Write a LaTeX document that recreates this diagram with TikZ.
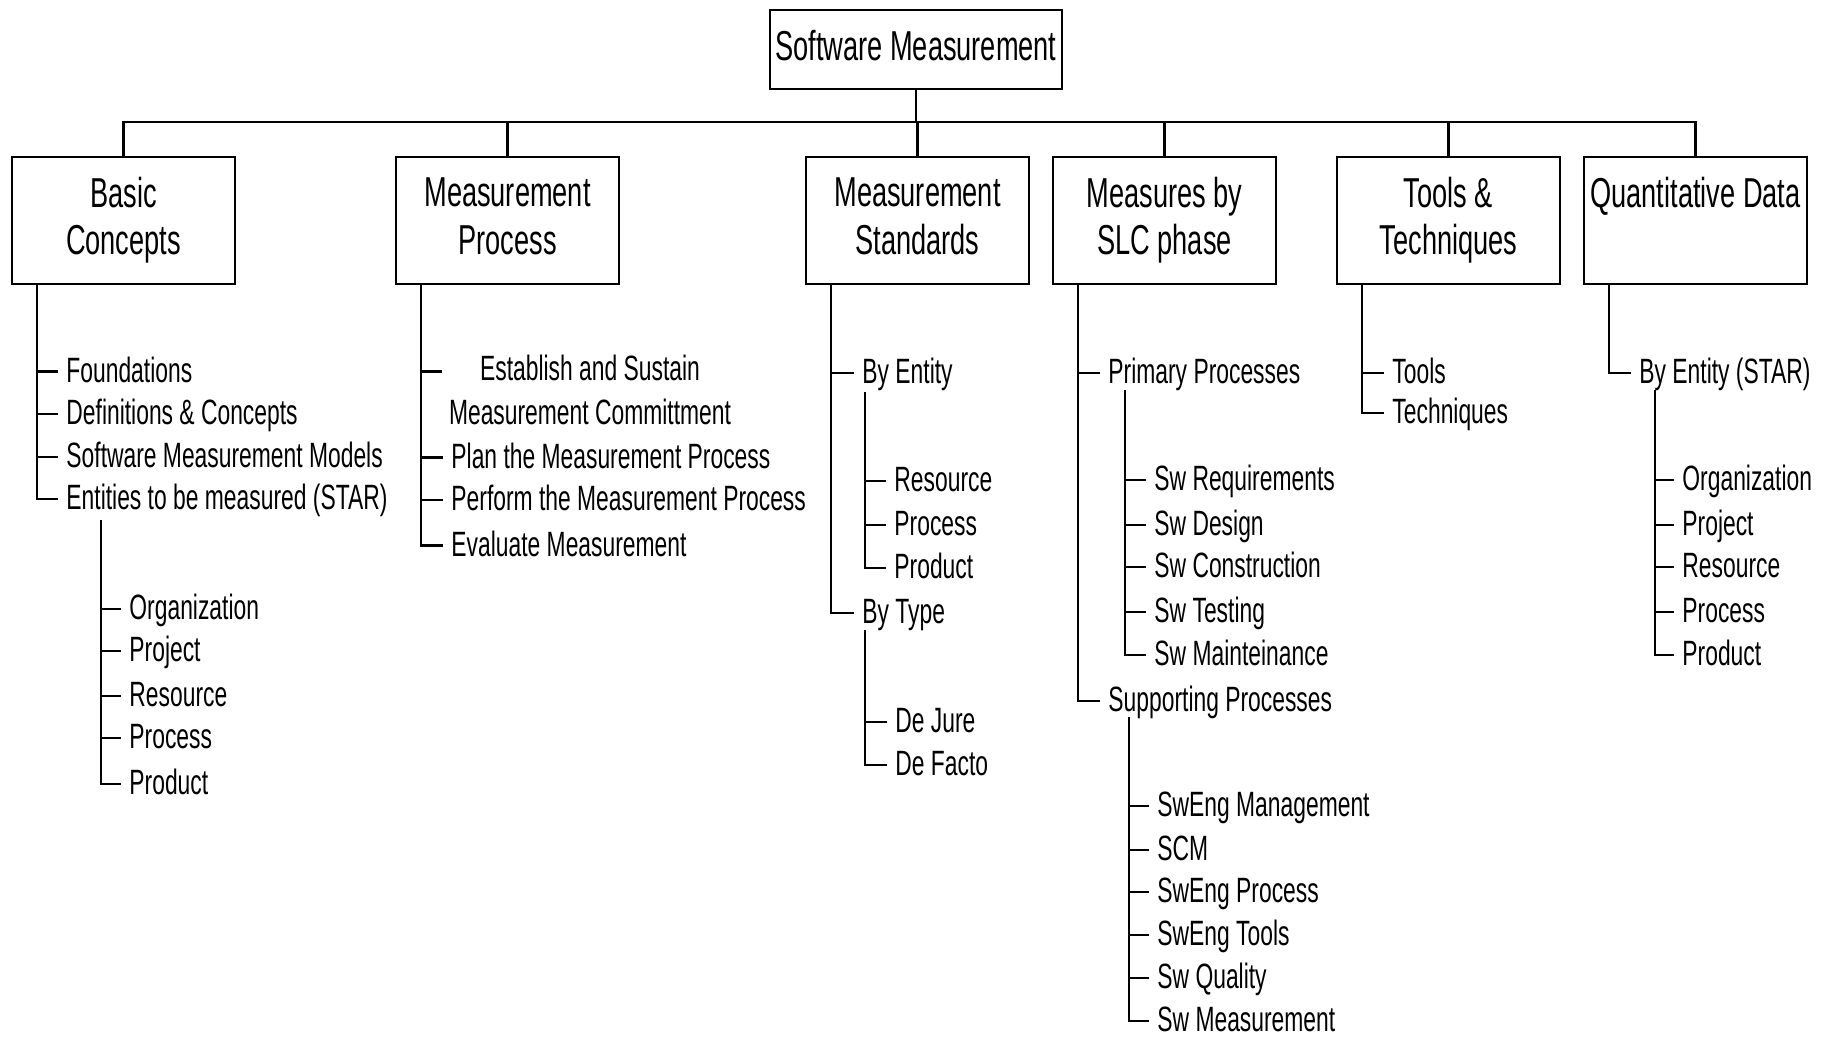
\documentclass[tikz,border=0pt]{standalone}
\usepackage{fontspec}
\setmainfont{Liberation Sans}[FakeStretch=0.65]
\usepackage{tikz}
\usetikzlibrary{positioning,calc}

\begin{document}
\begin{tikzpicture}[
  x=0.01cm, y=-0.01cm,
  % Styles
  cat/.style={draw, line width=0.7pt, minimum width=2.23cm, minimum height=1.27cm,
              inner sep=0pt, align=center, font=\fontsize{11.9}{13.4}\selectfont,
              execute at end node={\vphantom{p}}},
  leaf/.style={anchor=west, inner xsep=2.2pt, inner ysep=0pt, text height=6pt,
               text depth=0pt, font=\fontsize{10}{11.95}\selectfont},
  link/.style={line width=0.6pt}
]
\useasboundingbox (0,0) rectangle (1830,1036);

% --- 1. Root and categories ---
\node[cat, minimum width=2.92cm, minimum height=0.79cm] (root) at (916,49.5) {Software Measurement};

\node[cat] (bc) at (123.5,220.5) {Basic\\Concepts};
\node[cat] (mp) at (507.5,220.5) {Measurement\\Process};
\node[cat] (ms) at (917.5,220.5) {Measurement\\Standards};
\node[cat] (mb) at (1164.5,220.5) {Measures by\\SLC phase};
\node[cat] (tt) at (1448.5,220.5) {Tools \&\\Techniques};
\node[cat] (qd) at (1695.5,220.5) {Quantitative Data\\\mbox{}};

% Bus
\coordinate (bus) at ([yshift=-0.32cm]root.south);
\draw[link] (root.south) -- (bus);
\draw[link] (bc.north) |- (bus) -| (qd.north);
\foreach \c in {mp,ms,mb,tt}
  \draw[link] (\c.north) -- (\c.north |- bus);

% Stem tops under each category
\foreach \c in {bc,mp,ms,mb,tt,qd}
  \coordinate (\c s) at ([xshift=0.265cm]\c.south west);

% --- 2. Basic Concepts ---
\node[leaf] (f1) at (58,371.5) {Foundations};
\node[leaf] (f2) at (58,414) {Definitions \& Concepts};
\node[leaf] (f3) at (58,457) {Software Measurement Models};
\node[leaf] (f4) at (58,499) {Entities to be measured (STAR)};
\foreach \n in {f1,f2,f3,f4}
  \draw[link] (bcs) |- (\n.west);

\coordinate (f4s) at ([shift={(43,21)}]f4.west);
\node[leaf] (fo1) at (121,609) {Organization};
\node[leaf] (fo2) at (121,651) {Project};
\node[leaf] (fo3) at (121,696) {Resource};
\node[leaf] (fo4) at (121,738) {Process};
\node[leaf] (fo5) at (121,784) {Product};
\foreach \n in {fo1,fo2,fo3,fo4,fo5}
  \draw[link] (f4s) |- (\n.west);

% --- 3. Measurement Process ---
\node[font=\fontsize{10}{12.5}\selectfont, align=center, inner sep=0pt, anchor=north]
  (p1) at (590,354) {Establish and Sustain\\Measurement Committment};
\coordinate (p1t) at (442,371.5);
\node[leaf] (p2) at (443,457.5) {Plan the Measurement Process};
\node[leaf] (p3) at (443,500) {Perform the Measurement Process};
\node[leaf] (p4) at (443,545.5) {Evaluate Measurement};
\draw[link] (mps) |- (p1t);
\foreach \n in {p2,p3,p4}
  \draw[link] (mps) |- (\n.west);

% --- 4. Measurement Standards ---
\node[leaf] (s1) at (854,373) {By Entity};
\node[leaf] (s2) at (854,613) {By Type};
\foreach \n in {s1,s2}
  \draw[link] (mss) |- (\n.west);

\coordinate (s1s) at ([shift={(11,19)}]s1.west);
\node[leaf] (se1) at (886,481) {Resource};
\node[leaf] (se2) at (886,525) {Process};
\node[leaf] (se3) at (886,568) {Product};
\foreach \n in {se1,se2,se3}
  \draw[link] (s1s) |- (\n.west);

\coordinate (s2s) at ([shift={(11,17)}]s2.west);
\node[leaf] (st1) at (887,722) {De Jure};
\node[leaf] (st2) at (887,765) {De Facto};
\foreach \n in {st1,st2}
  \draw[link] (s2s) |- (\n.west);

% --- 5. Measures by SLC phase ---
\node[leaf] (m1) at (1100,373) {Primary Processes};
\node[leaf] (m2) at (1100,701) {Supporting Processes};
\foreach \n in {m1,m2}
  \draw[link] (mbs) |- (\n.west);

\coordinate (m1s) at ([shift={(25,17)}]m1.west);
\node[leaf] (pp1) at (1146,480) {Sw Requirements};
\node[leaf] (pp2) at (1146,525) {Sw Design};
\node[leaf] (pp3) at (1146,567) {Sw Construction};
\node[leaf] (pp4) at (1146,612) {Sw Testing};
\node[leaf] (pp5) at (1146,655) {Sw Mainteinance};
\foreach \n in {pp1,pp2,pp3,pp4,pp5}
  \draw[link] (m1s) |- (\n.west);

\coordinate (m2s) at ([shift={(29,16)}]m2.west);
\node[leaf] (sp1) at (1149,806) {SwEng Management};
\node[leaf] (sp2) at (1149,850) {SCM};
\node[leaf] (sp3) at (1149,892) {SwEng Process};
\node[leaf] (sp4) at (1149,935) {SwEng Tools};
\node[leaf] (sp5) at (1149,978) {Sw Quality};
\node[leaf] (sp6) at (1149,1021) {Sw Measurement};
\foreach \n in {sp1,sp2,sp3,sp4,sp5,sp6}
  \draw[link] (m2s) |- (\n.west);

% --- 6. Tools & Techniques ---
\node[leaf] (t1) at (1384,373) {Tools};
\node[leaf] (t2) at (1384,413) {Techniques};
\foreach \n in {t1,t2}
  \draw[link] (tts) |- (\n.west);

% --- 7. Quantitative Data ---
\node[leaf] (q1) at (1631,373) {By Entity (STAR)};
\draw[link] (qds) |- (q1.west);

\coordinate (q1s) at ([shift={(24,17)}]q1.west);
\node[leaf] (qe1) at (1674,480) {Organization};
\node[leaf] (qe2) at (1674,525) {Project};
\node[leaf] (qe3) at (1674,567) {Resource};
\node[leaf] (qe4) at (1674,612) {Process};
\node[leaf] (qe5) at (1674,655) {Product};
\foreach \n in {qe1,qe2,qe3,qe4,qe5}
  \draw[link] (q1s) |- (\n.west);

\end{tikzpicture}
\end{document}
